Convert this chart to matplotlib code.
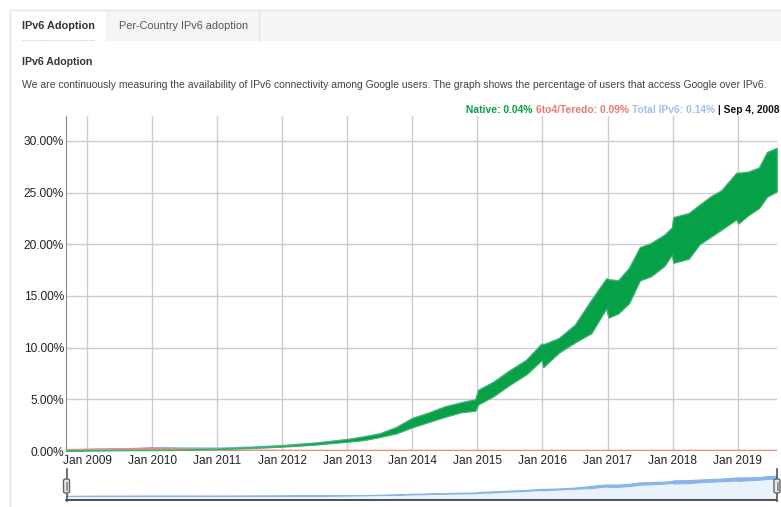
import matplotlib
matplotlib.use('Agg')
import matplotlib.pyplot as plt
from matplotlib.patches import Rectangle, FancyBboxPatch
from matplotlib.lines import Line2D
from matplotlib.ticker import FuncFormatter
from datetime import datetime
import numpy as np

plt.rcParams['font.family'] = ['Liberation Sans', 'DejaVu Sans']

W, H = 781, 507

# ---------------- data ----------------
dates = ['2008-09-04', '2009-01-01', '2009-07-01', '2010-01-01', '2010-07-01',
         '2011-01-01', '2011-07-01', '2012-01-01', '2012-07-01', '2013-01-01',
         '2013-04-01', '2013-07-01', '2013-10-01', '2014-01-01', '2014-04-01',
         '2014-07-01', '2014-10-01', '2014-12-20', '2015-01-05', '2015-04-01',
         '2015-07-01', '2015-10-01', '2015-12-28', '2016-01-05', '2016-04-01',
         '2016-07-01', '2016-10-01', '2016-12-25', '2017-01-05', '2017-03-01',
         '2017-05-01', '2017-07-01', '2017-09-01', '2017-11-15', '2017-12-28',
         '2018-01-05', '2018-04-01', '2018-06-01', '2018-08-01', '2018-10-01',
         '2018-12-25', '2019-01-05', '2019-03-01', '2019-05-01', '2019-06-15',
         '2019-08-08']
native_high = [0.04, 0.08, 0.10, 0.13, 0.15, 0.25, 0.38, 0.55, 0.80, 1.15,
               1.40, 1.70, 2.30, 3.20, 3.70, 4.30, 4.70, 5.00, 5.90, 6.70,
               7.80, 8.80, 10.40, 10.30, 10.90, 12.20, 14.60, 16.70, 16.60, 16.50,
               17.70, 19.70, 20.10, 20.90, 21.60, 22.60, 23.00, 23.80, 24.60, 25.20,
               26.90, 26.90, 27.00, 27.40, 28.90, 29.30]
native_low = [0.03, 0.05, 0.07, 0.08, 0.10, 0.18, 0.28, 0.42, 0.62, 0.90,
              1.05, 1.35, 1.70, 2.30, 2.80, 3.30, 3.75, 3.90, 4.50, 5.30,
              6.40, 7.40, 8.80, 8.10, 9.50, 10.50, 11.40, 13.80, 12.90, 13.30,
              14.30, 16.50, 16.90, 17.90, 19.00, 18.20, 18.60, 20.00, 20.70, 21.40,
              22.40, 22.00, 22.80, 23.50, 24.60, 25.10]
teredo = [0.09, 0.12, 0.15, 0.22, 0.18, 0.08, 0.04, 0.03, 0.02, 0.02,
          0.02, 0.02, 0.02, 0.02, 0.02, 0.02, 0.02, 0.02, 0.02, 0.02,
          0.02, 0.02, 0.02, 0.02, 0.02, 0.02, 0.02, 0.02, 0.02, 0.02,
          0.02, 0.02, 0.02, 0.02, 0.02, 0.02, 0.02, 0.02, 0.02, 0.02,
          0.02, 0.02, 0.02, 0.02, 0.02, 0.02]
y_ticks = [0, 5, 10, 15, 20, 25, 30]
x_tick_years = list(range(2009, 2020))
x_tick_labels = ['Jan %d' % y for y in x_tick_years]
legend_parts = [('Native: 0.04%', '#0b9d46'),
                ('6to4/Teredo: 0.09%', '#e67c73'),
                ('Total IPv6: 0.14%', '#9fc0ec'),
                ('| Sep 4, 2008', '#111111')]
x_start, x_end = '2008-09-04', '2019-08-10'

GREEN = '#06a046'
RED = '#e88b85'
BLUE = '#8ab4e8'

d = [datetime.strptime(s, '%Y-%m-%d') for s in dates]
nh = np.array(native_high)
nl = np.array(native_low)
tr = np.array(teredo)
th = nh + tr
tl = nl + tr

fig = plt.figure(figsize=(W / 100, H / 100), dpi=100)
fig.patch.set_facecolor('white')


def fx(x):
    return x / W


def fy(y):
    return 1 - y / H


def rect(x0, y0, x1, y1, **kw):
    fig.add_artist(Rectangle((fx(x0), fy(y1)), fx(x1) - fx(x0), fy(y0) - fy(y1),
                             transform=fig.transFigure, **kw))


def hline(x0, x1, y, **kw):
    fig.add_artist(Line2D([fx(x0), fx(x1)], [fy(y), fy(y)], transform=fig.transFigure, **kw))


def vline(x, y0, y1, **kw):
    fig.add_artist(Line2D([fx(x), fx(x)], [fy(y0), fy(y1)], transform=fig.transFigure, **kw))


# ---------------- page chrome ----------------
rect(106, 9.5, 781, 41, facecolor='#f5f5f5', edgecolor='none')
hline(10, 781, 9.5, color='#e4e4e4', lw=1)
vline(10, 9.5, 507, color='#e4e4e4', lw=1)
vline(259, 9.5, 41, color='#e4e4e4', lw=1)
hline(22, 94, 40, color='#cccccc', lw=0.8, linestyle=(0, (1, 1)))

fig.text(fx(22), fy(26), 'IPv6 Adoption', fontsize=7.8, fontweight='bold', color='#333333',
         va='center', ha='left')
fig.text(fx(119), fy(26), 'Per-Country IPv6 adoption', fontsize=7.8, color='#555555',
         va='center', ha='left')
fig.text(fx(22), fy(62), 'IPv6 Adoption', fontsize=7.6, fontweight='bold', color='#333333',
         va='center', ha='left')
fig.text(fx(22), fy(85),
         'We are continuously measuring the availability of IPv6 connectivity among Google users. '
         'The graph shows the percentage of users that access Google over IPv6.',
         fontsize=7.5, color='#444444', va='center', ha='left')

# ---------------- main chart ----------------
ax = fig.add_axes([fx(66), fy(451), fx(777) - fx(66), fy(116) - fy(451)])
ax.set_xlim(datetime.strptime(x_start, '%Y-%m-%d'), datetime.strptime(x_end, '%Y-%m-%d'))
ax.set_ylim(0, 32.4)
ax.set_yticks(y_ticks)
ax.yaxis.set_major_formatter(FuncFormatter(lambda v, p: '%.2f%%' % v))
ax.set_xticks([datetime(y, 1, 1) for y in x_tick_years])
ax.set_xticklabels(x_tick_labels)
ax.grid(True, color='#cccccc', lw=1)
ax.set_axisbelow(True)
for s in ['top', 'right', 'bottom']:
    ax.spines[s].set_visible(False)
ax.spines['left'].set_color('#888888')
ax.tick_params(length=0, labelsize=8.6, colors='#222222')
ax.tick_params(axis='y', pad=1.5)
ax.tick_params(axis='x', pad=3)

ax.fill_between(d, tl, th, color=BLUE, lw=1, zorder=2)
ax.plot(d, tr, color=RED, lw=1.5, zorder=3)
ax.fill_between(d, nl, nh, color=GREEN, edgecolor='#3cb46a', lw=0.8, zorder=4)

# legend text line (right aligned at x=779)
LFS = 7.4
fig.canvas.draw()
r = fig.canvas.get_renderer()
tmp = [fig.text(0, 0, t, fontsize=LFS, fontweight='bold') for t, c in legend_parts]
widths = [tt.get_window_extent(r).width for tt in tmp]
t1 = fig.text(0, 0, 'a b', fontsize=LFS, fontweight='bold')
t2 = fig.text(0, 0, 'ab', fontsize=LFS, fontweight='bold')
space = t1.get_window_extent(r).width - t2.get_window_extent(r).width
for tt in tmp + [t1, t2]:
    tt.remove()
total_w = sum(widths) + space * (len(widths) - 1)
xpos = 779 - total_w
for (t, c), w in zip(legend_parts, widths):
    fig.text(fx(xpos), fy(110), t, fontsize=LFS, fontweight='bold', color=c,
             ha='left', va='center')
    xpos += w + space

# ---------------- range selector ----------------
ax2 = fig.add_axes([fx(66), fy(500), fx(777) - fx(66), fy(471) - fy(500)])
ax2.set_xlim(ax.get_xlim())
ax2.set_ylim(-5.8, 36.2)
ax2.fill_between(d, -5.8, tl, color='#eaf2fc', lw=0)
ax2.fill_between(d, tl, th, color=BLUE, lw=0.8)
ax2.set_xticks([])
ax2.set_yticks([])
for s in ['top', 'left', 'right']:
    ax2.spines[s].set_visible(False)
ax2.spines['bottom'].set_color('#333333')
ax2.spines['bottom'].set_linewidth(1.2)
ax2.patch.set_alpha(0)

for hx in (66.5, 777):
    vline(hx, 469, 501, color='#555555', lw=1.2)
    fig.add_artist(FancyBboxPatch((fx(hx - 3), fy(493)), fx(6), fy(479) - fy(493),
                                  boxstyle='round,pad=0,rounding_size=0.003',
                                  transform=fig.transFigure, facecolor='#e8e8e8',
                                  edgecolor='#666666', lw=1, zorder=5))
    vline(hx - 0.5, 482, 490, color='#888888', lw=0.6, zorder=6)
    vline(hx + 0.8, 482, 490, color='#888888', lw=0.6, zorder=6)

fig.savefig('out.png', dpi=100)
